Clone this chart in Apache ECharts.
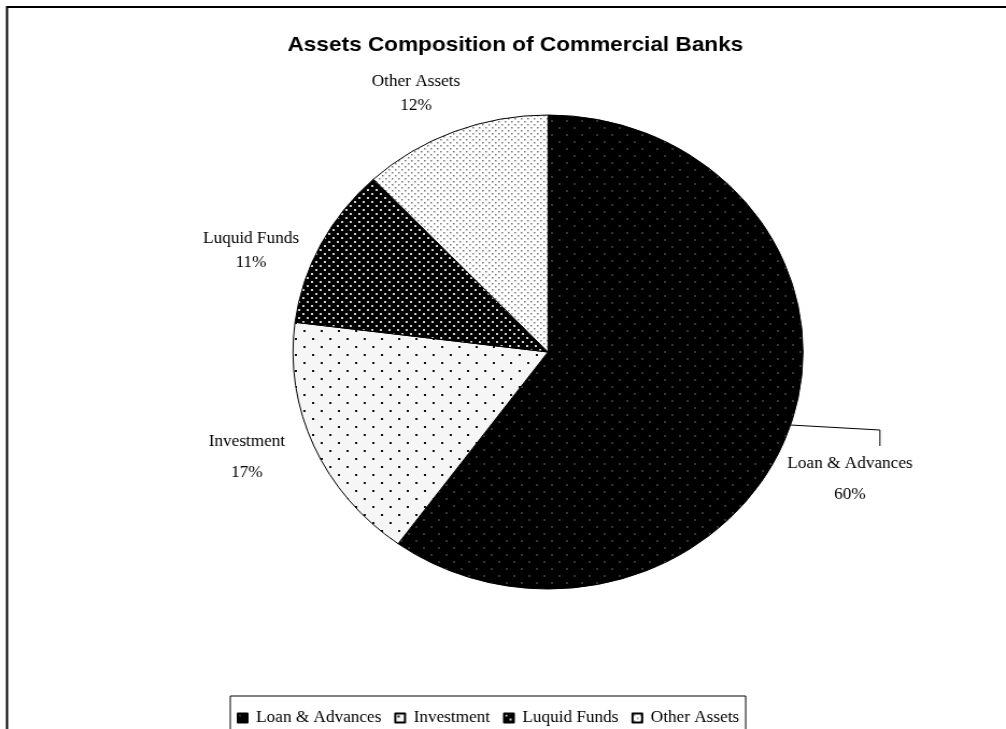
<!DOCTYPE html>
<html>
<head>
<meta charset="utf-8">
<script src="https://cdn.jsdelivr.net/npm/echarts@6/dist/echarts.min.js"></script>
<style>
html,body{margin:0;padding:0;background:#fff;}
#wrap{width:1006px;height:729px;overflow:hidden;position:relative;}
#c{width:935px;height:729px;transform:scaleX(1.07594);transform-origin:0 0;}
</style>
</head>
<body>
<div id="wrap"><div id="c"></div></div>
<script>
// ---- data ----
const categories = ['Loan & Advances', 'Investment', 'Luquid Funds', 'Other Assets'];
const shares = [60, 17, 11, 12];
const chartTitle = 'Assets Composition of Commercial Banks';

// ---- layout / style (chart units; container is stretched horizontally) ----
const labelPos = [
  { x: 790, y: 479, lh: 31 },
  { x: 229.5, y: 457, lh: 31 },
  { x: 233.3, y: 251, lh: 24 },
  { x: 386.6, y: 94, lh: 24 }
];

function makePattern(size, bg, dotColor, dots, dotSize) {
  const cv = document.createElement('canvas');
  cv.width = size; cv.height = size;
  const ctx = cv.getContext('2d');
  ctx.fillStyle = bg; ctx.fillRect(0, 0, size, size);
  ctx.fillStyle = dotColor;
  dots.forEach(d => ctx.fillRect(d[0], d[1], dotSize, dotSize));
  return { image: cv, repeat: 'repeat' };
}
const fills = [
  makePattern(14, '#000000', '#363636', [[1, 1], [8, 8]], 2),
  makePattern(16, '#f6f6f6', '#111111', [[2, 2], [10, 10]], 2),
  makePattern(8, '#000000', '#d0d0d0', [[1, 1], [5, 5]], 2),
  makePattern(6, '#ffffff', '#7a7a7a', [[1, 1], [4, 4]], 1.5)
];

const chart = echarts.init(document.getElementById('c'), null, { renderer: 'canvas' });
chart.setOption({
  animation: false,
  backgroundColor: '#ffffff',
  title: {
    text: chartTitle,
    left: 474,
    textAlign: 'center',
    top: 30,
    textStyle: { fontFamily: 'Liberation Sans', fontWeight: 'bold', fontSize: 21, color: '#000' }
  },
  graphic: [{
    type: 'rect',
    shape: { x: 6.5, y: 7, width: 1000, height: 800 },
    style: { fill: 'none', stroke: '#000', lineWidth: 2 },
    silent: true
  }],
  legend: {
    left: 214,
    top: 696,
    orient: 'horizontal',
    icon: 'rect',
    itemWidth: 9,
    itemHeight: 9,
    itemGap: 12,
    padding: [14, 6, 14, 6],
    borderColor: '#000',
    borderWidth: 1,
    textStyle: { fontFamily: 'Liberation Serif', fontSize: 16, color: '#000', padding: [0, 0, 0, 3] },
    data: categories
  },
  series: [{
    type: 'pie',
    center: [509.3, 352],
    radius: 237,
    startAngle: 90,
    clockwise: true,
    avoidLabelOverlap: false,
    itemStyle: { borderColor: '#000', borderWidth: 1 },
    label: {
      show: true,
      position: 'outside',
      formatter: '{b}\n{d}%',
      fontFamily: 'Liberation Serif',
      fontSize: 16,
      color: '#000',
      align: 'center'
    },
    labelLine: { show: false, lineStyle: { color: '#000', width: 1 } },
    labelLayout: function (p) {
      const lp = labelPos[p.dataIndex];
      const out = { x: lp.x, y: lp.y, align: 'center', verticalAlign: 'middle' };
      if (p.dataIndex === 0) {
        out.labelLinePoints = [[734.5, 425], [817.8, 430], [817.8, 446]];
      }
      return out;
    },
    data: categories.map((n, i) => ({
      name: n,
      value: shares[i],
      itemStyle: { color: fills[i] },
      label: { lineHeight: labelPos[i].lh },
      labelLine: { show: i === 0 }
    }))
  }]
});
</script>
</body>
</html>
